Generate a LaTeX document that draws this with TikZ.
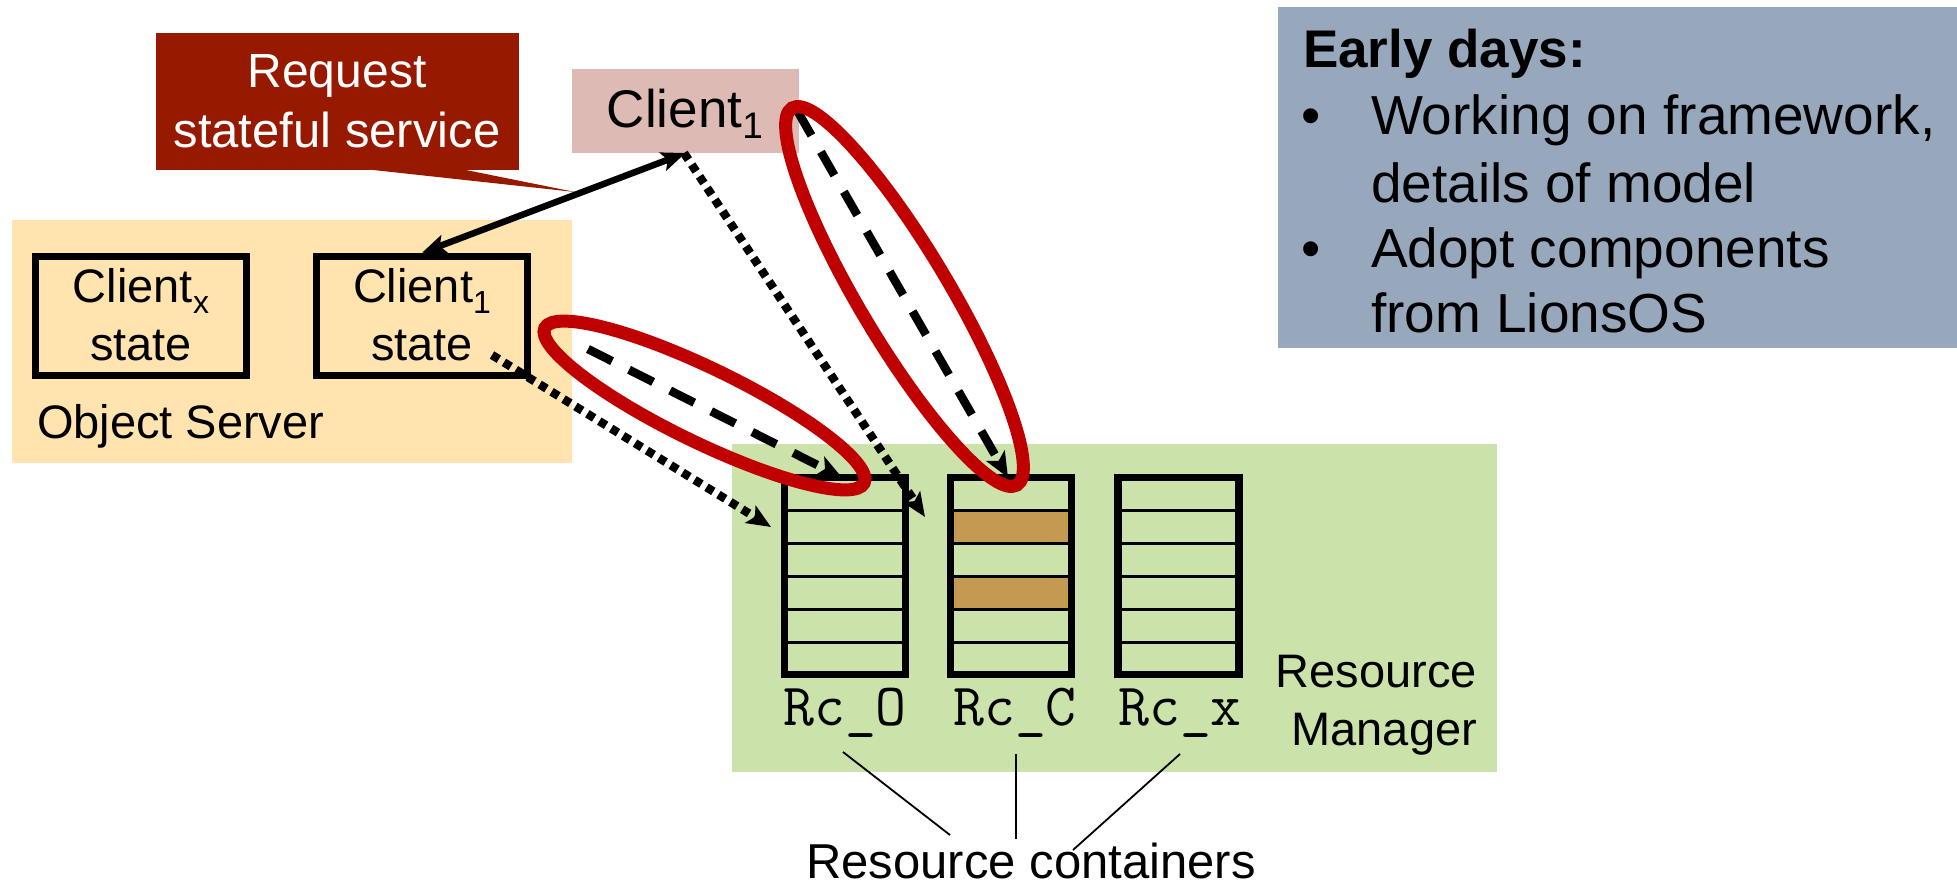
\documentclass[tikz,border=0pt]{standalone}
\usepackage{fontspec}
\setmainfont{Liberation Sans}
\usetikzlibrary{arrows.meta,calc}

\definecolor{reqred}{HTML}{961900}
\definecolor{clientpink}{HTML}{DDBAB4}
\definecolor{osfill}{HTML}{FFE4AF}
\definecolor{rmgreen}{HTML}{CBE3AA}
\definecolor{infogray}{HTML}{97A8BC}
\definecolor{ringred}{HTML}{C00000}
\definecolor{slotbrown}{HTML}{C49A52}

% lowered subscript in the label font
\newcommand{\lowsub}[2]{\raisebox{-#1}{\fontsize{32}{32}\selectfont #2}}

\begin{document}
\begin{tikzpicture}[x=1pt,y=-1pt,
  lbl/.style={font=\fontsize{47}{56}\selectfont, inner sep=0pt, outer sep=0pt},
  biglbl/.style={font=\fontsize{53}{60}\selectfont, inner sep=0pt, outer sep=0pt},
  infolbl/.style={font=\fontsize{55}{66}\selectfont, inner sep=0pt, outer sep=0pt},
  rclbl/.style={font=\fontsize{60}{66}\selectfont\ttfamily, inner sep=0pt, outer sep=0pt},
  panel/.style={anchor=north west, inner sep=0pt, outer sep=0pt},
  statebox/.style={draw, line width=7.5pt, minimum width=211pt, minimum height=119pt, inner sep=0pt},
  cont/.style={draw, line width=7.5pt, minimum width=121pt, minimum height=197pt, inner sep=0pt, outer sep=0pt},
  rowline/.style={line width=3.5pt},
  dblarrow/.style={{Stealth[length=24pt,width=19pt,inset=5pt]}-{Stealth[length=24pt,width=19pt,inset=5pt]}, line width=6.5pt},
  dasharrow/.style={-{Stealth[length=25pt,width=21pt,inset=6pt]}, line width=8.5pt, dash pattern=on 27pt off 19pt},
  dotarrow/.style={-{Stealth[length=24pt,width=20pt,inset=5pt]}, line width=8.5pt, dash pattern=on 8pt off 6pt},
  ring/.style={draw=ringred, line width=13pt},
  pointer/.style={line width=1.8pt}
]
\useasboundingbox (0,0) rectangle (1957,888);

% background panels
\node[panel, fill=osfill, minimum width=560pt, minimum height=243pt] (os) at (12,220) {};
\node[panel, fill=rmgreen, minimum width=765pt, minimum height=328pt] (rm) at (732,444) {};
\node[panel, fill=infogray, minimum width=679pt, minimum height=341pt] (info) at (1278,7) {};
\node[panel, fill=clientpink, minimum width=227pt, minimum height=84pt] (client) at (572,69) {};

% callout with its wedge
\node[panel, fill=reqred, minimum width=363pt, minimum height=137pt] (req) at (156,33) {};
\coordinate (wedgeA) at (364,169);
\coordinate (wedgeB) at (461,169);
\coordinate (wedgeTip) at (575,192);
\fill[reqred] (wedgeA) -- (wedgeTip) -- (wedgeB) -- cycle;

% client state boxes
\node[statebox] (csx) at (141,316) {};
\node[statebox] (cs1) at (422,316) {};

% resource containers
\node[cont] (rcO) at (845,576) {};
\node[cont] (rcC) at (1011,576) {};
\node[cont] (rcX) at (1178.5,576) {};
\fill[slotbrown] ($(rcC.north west)+(3,34.5)$) rectangle ($(rcC.north east)+(-3,64.5)$);
\fill[slotbrown] ($(rcC.north west)+(3,100.5)$) rectangle ($(rcC.north east)+(-3,130.5)$);
\foreach \c in {rcO,rcC,rcX}{
  \foreach \k in {1,...,5}{
    \draw[rowline] ($(\c.north west)+(0,33*\k)$) -- ($(\c.north east)+(0,33*\k)$);
  }
  \draw[line width=7.5pt] (\c.north west) rectangle (\c.south east);
}

% connectors
\draw[dblarrow] (cs1.north) -- (client.south);
\coordinate (dotAstart) at (684,153);
\coordinate (dotAend) at (925,517);
\draw[dotarrow] (dotAstart) -- (dotAend);
\coordinate (dotBstart) at (492,355);
\coordinate (dotBend) at (771,527);
\draw[dotarrow] (dotBstart) -- (dotBend);
\coordinate (dashAstart) at (588,349);
\coordinate (dashBstart) at (798,112);
\draw[dasharrow] (dashAstart) -- ($(rcO.north)+(-3,0)$);
\draw[dasharrow] (dashBstart) -- ($(rcC.north)+(-3,0)$);

% highlight rings
\draw[ring, rotate around={-25.9:(704.5,405.5)}] (704.5,405.5) ellipse [x radius=177.5pt, y radius=37pt];
\draw[ring, rotate around={-59.2:(904.5,296.5)}] (904.5,296.5) ellipse [x radius=219.5pt, y radius=45pt];

% labels
\node[lbl, font=\fontsize{48}{56}\selectfont, text=white, anchor=base] (reqA) at (337,88) {Request};
\node[lbl, font=\fontsize{49}{56}\selectfont, text=white, anchor=base] (reqB) at (337,147) {stateful service};
\node[biglbl, anchor=base] (clientlbl) at (685,128) {Client\raisebox{-11pt}{\fontsize{37}{37}\selectfont 1}};
\node[lbl, anchor=base] (csxA) at (141,302) {Client\lowsub{11pt}{x}};
\node[lbl, anchor=base] (csxB) at (141,360) {state};
\node[lbl, anchor=base] (cs1A) at (422,302) {Client\lowsub{11pt}{1}};
\node[lbl, anchor=base] (cs1B) at (422,360) {state};
\node[lbl, anchor=base west] (oslbl) at (37,438) {Object Server};
\node[lbl, anchor=base east] (rmA) at (1477,687) {Resource};
\node[lbl, anchor=base east] (rmB) at (1477,745) {Manager};
\node[rclbl, anchor=base] (rcOlbl) at (845,725) {Rc\_O};
\node[rclbl, anchor=base] (rcClbl) at (1015,725) {Rc\_C};
\node[rclbl, anchor=base] (rcXlbl) at (1180,725) {Rc\_x};
\node[lbl, font=\fontsize{49}{56}\selectfont, anchor=base] (rcs) at (1031,878) {Resource containers};

% pointers from container names to the caption
\coordinate (pO) at (843,752);
\coordinate (pOe) at (950,835);
\coordinate (pC) at (1016,754);
\coordinate (pCe) at (1016,839);
\coordinate (pX) at (1180,754);
\coordinate (pXe) at (1073,850);
\draw[pointer] (pO) -- (pOe);
\draw[pointer] (pC) -- (pCe);
\draw[pointer] (pX) -- (pXe);

% notes panel text
\node[infolbl, font=\fontsize{53}{60}\selectfont\bfseries, anchor=base west] (early) at (1303,68) {Early days:};
\node[infolbl, anchor=base west] (bulA) at (1301,135) {•};
\node[infolbl, anchor=base west] (itemA1) at (1371,135) {Working on framework,};
\node[infolbl, anchor=base west] (itemA2) at (1371,202) {details of model};
\node[infolbl, anchor=base west] (bulB) at (1301,267) {•};
\node[infolbl, anchor=base west] (itemB1) at (1371,267) {Adopt components};
\node[infolbl, anchor=base west] (itemB2) at (1371,332) {from LionsOS};
\end{tikzpicture}
\end{document}
